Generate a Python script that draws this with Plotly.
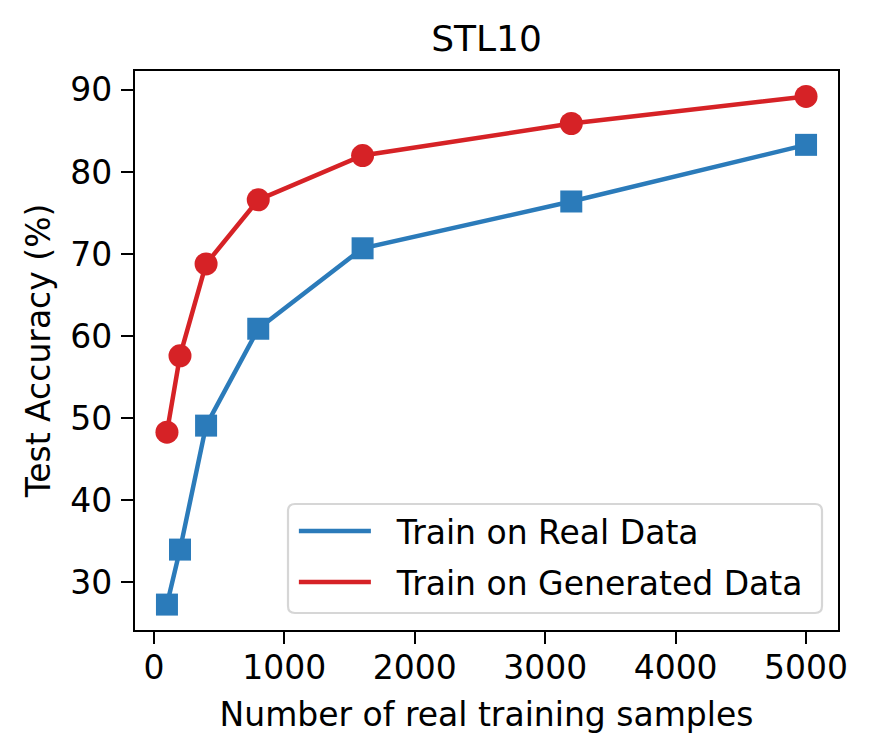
import plotly.graph_objects as go

samples = [100, 200, 400, 800, 1600, 3200, 5000]
real_acc = [27.3, 34.0, 49.1, 60.9, 70.7, 76.4, 83.3]
gen_acc = [48.3, 57.6, 68.8, 76.6, 82.0, 85.9, 89.2]
x_ticks = [0, 1000, 2000, 3000, 4000, 5000]
y_ticks = [30, 40, 50, 60, 70, 80, 90]

BLUE = "#2b7bba"
RED = "#d62226"
FONT = "DejaVu Sans"
FS = 33

# plot-area geometry in px (page has an 8px body margin)
L, R, T, B = 127, 43, 63, 134
PW = 873 - L - R
PH = 756 - T - B

def pad_range(vals, frac=0.05):
    lo, hi = min(vals), max(vals)
    m = (hi - lo) * frac
    return [lo - m, hi + m]

def rounded_box(x0, y0, x1, y1, r):
    def px(x):
        return x / PW
    def py(y):
        return 1 - y / PH
    pts = [
        f"M{px(x0 + r)},{py(y0)}",
        f"L{px(x1 - r)},{py(y0)}",
        f"Q{px(x1)},{py(y0)} {px(x1)},{py(y0 + r)}",
        f"L{px(x1)},{py(y1 - r)}",
        f"Q{px(x1)},{py(y1)} {px(x1 - r)},{py(y1)}",
        f"L{px(x0 + r)},{py(y1)}",
        f"Q{px(x0)},{py(y1)} {px(x0)},{py(y1 - r)}",
        f"L{px(x0)},{py(y0 + r)}",
        f"Q{px(x0)},{py(y0)} {px(x0 + r)},{py(y0)}",
        "Z",
    ]
    return " ".join(pts)

fig = go.Figure()
fig.add_trace(go.Scatter(x=samples, y=real_acc, mode="lines+markers",
                         line=dict(color=BLUE, width=4.5),
                         marker=dict(symbol="square", size=22, color=BLUE),
                         showlegend=False))
fig.add_trace(go.Scatter(x=samples, y=gen_acc, mode="lines+markers",
                         line=dict(color=RED, width=4.5),
                         marker=dict(symbol="circle", size=23, color=RED),
                         showlegend=False))
fig.add_trace(go.Scatter(x=[None], y=[None], mode="lines", name="  Train on Real Data",
                         line=dict(color=BLUE, width=4.5), legendgroup="a"))
fig.add_trace(go.Scatter(x=[None], y=[None], mode="lines", name="  Train on Generated Data",
                         line=dict(color=RED, width=4.5), legendgroup="b"))

axis_common = dict(showgrid=False, zeroline=False, showline=True, linecolor="black",
                   linewidth=2.4, mirror=True, ticks="outside", ticklen=12, tickwidth=2.4,
                   tickcolor="black",
                   tickfont=dict(family=FONT, size=FS, color="black"))

fig.add_shape(type="path", xref="paper", yref="paper", layer="below",
              path=rounded_box(153, 433, 687, 542, 7),
              fillcolor="white", line=dict(color="#d6d6d6", width=2.2))

fig.update_layout(
    width=873, height=756,
    margin=dict(l=L, r=R, t=T, b=B),
    paper_bgcolor="white", plot_bgcolor="white",
    font=dict(family=FONT, size=FS, color="black"),
    title=dict(text="STL10", x=0.5, xref="paper", xanchor="center",
               y=1, yref="paper", yanchor="bottom", pad=dict(b=20),
               font=dict(family=FONT, size=36, color="black")),
    xaxis=dict(range=pad_range(samples), tickvals=x_ticks, ticklabelstandoff=-5,
               title=dict(text="Number of real training samples", standoff=17,
                          font=dict(family=FONT, size=FS)),
               **axis_common),
    yaxis=dict(range=pad_range(real_acc + gen_acc), tickvals=y_ticks, ticklabelstandoff=2,
               title=dict(text="Test Accuracy (%)", standoff=10,
                          font=dict(family=FONT, size=FS)),
               **axis_common),
    legend=dict(x=0.226, y=0.227, xanchor="left", yanchor="top",
                bgcolor="rgba(0,0,0,0)", borderwidth=0,
                font=dict(family=FONT, size=FS, color="black"),
                itemwidth=72, traceorder="grouped", tracegroupgap=5),
)

fig.write_html("out.html")
